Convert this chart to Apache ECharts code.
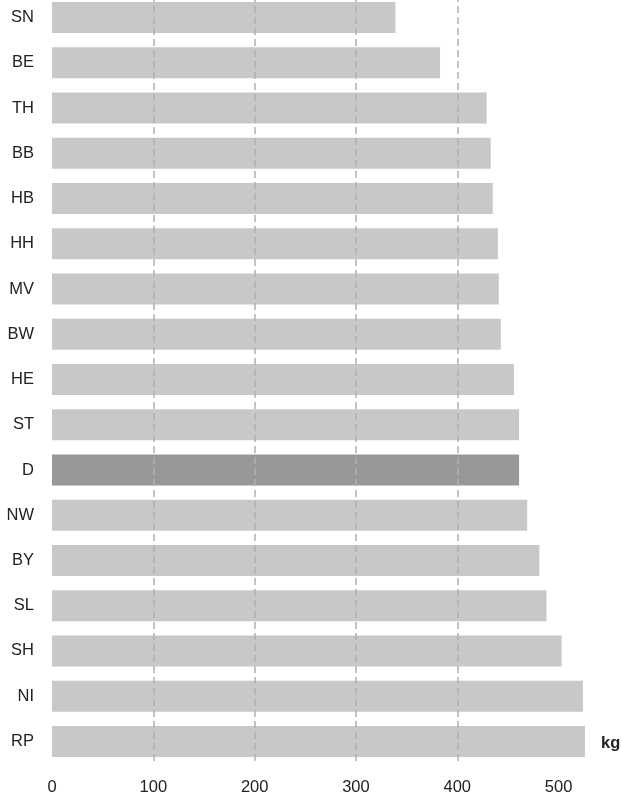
<!DOCTYPE html>
<html>
<head>
<meta charset="utf-8">
<script src="https://cdn.jsdelivr.net/npm/echarts@6/dist/echarts.min.js"></script>
<style>html,body{margin:0;padding:0;background:#fff}#c{width:622px;height:797px}</style>
</head>
<body>
<div id="c"></div>
<script>
var categories = ['SN','BE','TH','BB','HB','HH','MV','BW','HE','ST','D','NW','BY','SL','SH','NI','RP'];
var values = [339, 383, 429, 433, 435, 440, 441, 443, 456, 461, 461, 469, 481, 488, 503, 524, 526];
var highlight = 'D';
var gridValues = [100, 200, 300, 400];
var unitLabel = 'kg';

var FONT = '"Liberation Sans", Arial, sans-serif';
var chart = echarts.init(document.getElementById('c'), null, {renderer: 'canvas'});
var data = values.map(function (v, i) {
  return {
    value: v,
    itemStyle: {color: categories[i] === highlight ? '#98989b' : '#c8c8c9'}
  };
});
chart.setOption({
  animation: false,
  grid: {left: 52, right: 33, top: -5, bottom: 33, containLabel: false, outerBoundsMode: 'none'},
  xAxis: {
    type: 'value', min: 0, max: 530, interval: 100,
    axisLine: {show: false}, axisTick: {show: false}, splitLine: {show: false},
    axisLabel: {showMaxLabel: false, color: '#222', fontSize: 16.5, fontFamily: FONT, margin: 15}
  },
  yAxis: {
    type: 'category', data: categories, inverse: true,
    axisLine: {show: false}, axisTick: {show: false},
    axisLabel: {color: '#222', fontSize: 16.5, fontFamily: FONT, margin: 18}
  },
  graphic: [{
    type: 'text', left: 601, top: 735,
    style: {text: unitLabel, font: 'bold 16.5px "Liberation Sans", Arial, sans-serif', fill: '#222'}
  }],
  series: [{
    type: 'bar', data: data, barWidth: 31,
    markLine: {
      silent: true, symbol: 'none', label: {show: false},
      lineStyle: {color: '#b0b0b0', type: [7, 4], width: 1.5},
      data: gridValues.map(function (g) { return {xAxis: g}; })
    }
  }]
});
</script>
</body>
</html>
